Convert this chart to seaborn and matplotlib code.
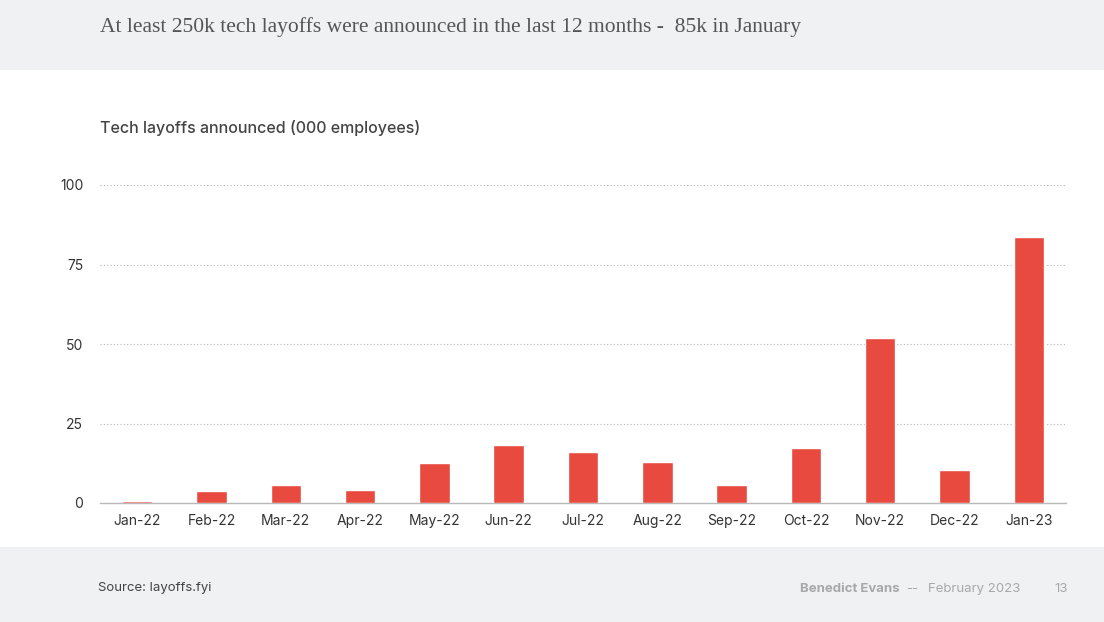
import matplotlib
matplotlib.use("Agg")
import matplotlib.pyplot as plt
import seaborn as sns
import pandas as pd
from matplotlib.patches import Rectangle

months = ["Jan-22", "Feb-22", "Mar-22", "Apr-22", "May-22", "Jun-22", "Jul-22",
          "Aug-22", "Sep-22", "Oct-22", "Nov-22", "Dec-22", "Jan-23"]
layoffs = [0.7, 3.8, 5.7, 4.1, 12.6, 18.2, 16.1, 12.9, 5.8, 17.3, 52.0, 10.3, 83.8]
y_ticks = [0, 25, 50, 75, 100]

df = pd.DataFrame({"month": months, "layoffs": layoffs})

sns.set_theme(style="white")
plt.rcParams["font.family"] = ["Inter", "DejaVu Sans"]

fig = plt.figure(figsize=(11.04, 6.22), dpi=100)
fig.patch.set_facecolor("white")

# grey bands top and bottom
band = "#f0f1f3"
fig.patches.append(Rectangle((0, 1 - 70 / 622), 1, 70 / 622, transform=fig.transFigure,
                             facecolor=band, edgecolor="none", zorder=0))
fig.patches.append(Rectangle((0, 0), 1, 75 / 622, transform=fig.transFigure,
                             facecolor=band, edgecolor="none", zorder=0))

ax = fig.add_axes([100 / 1104, 1 - 503 / 622, 966 / 1104, 318 / 622])
ax.set_facecolor("none")
sns.barplot(data=df, x="month", y="layoffs", color="#e84a3f", width=0.41,
            saturation=1, ax=ax, zorder=3)

ax.set_ylim(0, 100)
ax.set_xlim(-0.5, len(months) - 0.5)
ax.set_yticks(y_ticks)
ax.yaxis.grid(True, linestyle=(0, (1, 2)), color="#b5b5b5", linewidth=0.8)
ax.xaxis.grid(False)
ax.set_axisbelow(True)
for s in ["top", "right", "left"]:
    ax.spines[s].set_visible(False)
ax.spines["bottom"].set_color("#b8b8b8")
ax.spines["bottom"].set_linewidth(1)
ax.tick_params(axis="both", length=0, labelsize=10, colors="#333333")
ax.tick_params(axis="y", pad=12)
ax.tick_params(axis="x", pad=8)
ax.set_xlabel("")
ax.set_ylabel("")

fig.text(100 / 1104, 1 - 27 / 622,
         "At least 250k tech layoffs were announced in the last 12 months -  85k in January",
         family=["Liberation Serif", "DejaVu Serif"], fontsize=15.5, color="#555555",
         va="center", ha="left")
fig.text(100 / 1104, 1 - 128 / 622, "Tech layoffs announced (000 employees)",
         fontsize=11.5, color="#444444", va="center", ha="left", weight="medium")

fig.text(98 / 1104, 1 - 588 / 622, "Source: layoffs.fyi", fontsize=9.5,
         color="#444444", va="center", ha="left")
fig.text(1020 / 1104, 1 - 589 / 622, "February 2023", fontsize=9.5,
         color="#a8a8a8", va="center", ha="right")
fig.text(906 / 1104, 1 - 589 / 622, "--", fontsize=9.5,
         color="#a8a8a8", va="center", ha="left")
fig.text(900 / 1104, 1 - 589 / 622, "Benedict Evans", fontsize=9.5,
         color="#a8a8a8", va="center", ha="right", weight="bold")
fig.text(1068 / 1104, 1 - 589 / 622, "13", fontsize=9.5,
         color="#a8a8a8", va="center", ha="right")

fig.savefig("out.png", dpi=100, facecolor=fig.get_facecolor())
